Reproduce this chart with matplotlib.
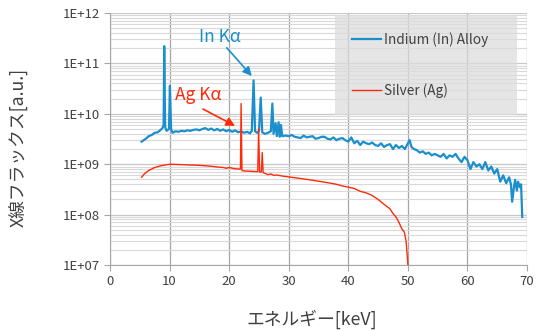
import matplotlib
matplotlib.use("Agg")
import matplotlib.pyplot as plt
import numpy as np
from matplotlib.ticker import FixedLocator, FuncFormatter, LogLocator, NullFormatter

plt.rcParams["font.family"] = ["Noto Sans CJK JP", "DejaVu Sans"]

# Indium (In) alloy spectrum: energy [keV], flux [a.u.]
in_energy = [5.3, 6.0, 6.5, 7.0, 7.5, 8.0, 8.5, 8.8, 9.0, 9.1, 9.25, 9.5, 9.9, 10.05, 10.25,
             10.5, 11, 11.5, 12, 12.5, 13, 13.5, 14, 14.5, 15, 15.5, 16, 16.5, 17, 17.5,
             18, 18.5, 19, 19.5, 20, 20.5, 21, 21.5, 22, 22.5, 23, 23.5, 23.8, 24.1, 24.35,
             24.7, 25.0, 25.3, 25.55, 26, 26.5, 27.0, 27.25, 27.45, 27.8, 28.0, 28.3, 28.5,
             28.7, 28.9, 29.5, 30, 30.5, 31, 31.5, 32, 32.5, 33, 33.5, 34, 34.5, 35, 35.5,
             36, 36.5, 37, 37.5, 38, 38.5, 39, 39.5, 40, 40.5, 41, 41.5, 42, 42.5, 43, 43.5,
             44, 44.5, 45, 45.5, 46, 46.5, 47, 47.5, 48, 48.5, 49, 49.5, 50, 50.3, 50.6, 51,
             51.5, 52, 52.5, 53, 53.5, 54, 54.5, 55, 55.5, 56, 56.5, 57, 57.5, 58, 58.5, 59,
             59.5, 60, 60.5, 61, 61.5, 62, 62.5, 63, 63.5, 64, 64.5, 65, 65.5, 66, 66.5, 67,
             67.3, 67.5, 67.8, 68.0, 68.3, 68.5, 68.8, 69.0, 69.2]
in_flux = [2.8e9, 3.2e9, 3.6e9, 3.8e9, 4.2e9, 4.3e9, 4.8e9, 5.2e9, 6.0e9, 2.2e11, 5.5e9, 4.6e9,
           5.0e9, 3.6e10, 5.0e9, 4.2e9, 4.5e9, 4.4e9, 4.6e9, 4.5e9, 4.7e9, 4.6e9, 4.8e9, 4.9e9,
           4.7e9, 5.0e9, 5.2e9, 4.8e9, 5.1e9, 4.7e9, 5.0e9, 4.6e9, 4.9e9, 4.5e9, 4.8e9, 4.4e9,
           4.7e9, 4.3e9, 4.5e9, 4.2e9, 4.4e9, 4.1e9, 4.6e9, 4.6e10, 4.5e9, 4.2e9, 4.5e9, 2.1e10,
           4.3e9, 4.0e9, 4.2e9, 4.5e9, 1.6e10, 4.0e9, 6.5e9, 3.6e9, 6.8e9, 3.5e9, 6.0e9, 3.6e9,
           3.7e9, 3.6e9, 3.8e9, 3.5e9, 3.4e9, 3.3e9, 3.7e9, 3.4e9, 3.5e9, 3.6e9, 3.2e9, 3.3e9,
           3.5e9, 3.5e9, 3.2e9, 3.1e9, 3.4e9, 3.0e9, 3.2e9, 3.3e9, 3.0e9, 2.8e9, 3.4e9, 2.6e9,
           2.9e9, 2.4e9, 2.8e9, 2.6e9, 2.5e9, 2.7e9, 2.4e9, 2.3e9, 2.6e9, 2.2e9, 2.4e9, 2.5e9,
           2.0e9, 2.4e9, 2.1e9, 2.3e9, 2.0e9, 2.6e9, 3.0e9, 2.2e9, 2.0e9, 1.9e9, 1.7e9, 1.8e9,
           1.6e9, 1.7e9, 1.5e9, 1.6e9, 1.5e9, 1.4e9, 1.6e9, 1.3e9, 1.5e9, 1.4e9, 1.6e9, 1.3e9,
           1.1e9, 1.4e9, 1.2e9, 8.0e8, 1.1e9, 9.0e8, 1.0e9, 8.0e8, 1.1e9, 7.5e8, 9.0e8, 6.5e8,
           8.0e8, 4.5e8, 6.0e8, 4.2e8, 5.5e8, 4.0e8, 1.8e8, 3.5e8, 4.9e8, 3.0e8, 4.5e8, 3.5e8,
           4.0e8, 9.0e7]

# Silver (Ag) spectrum
ag_energy = [5.3, 5.8, 6.5, 7.5, 8.5, 10, 11, 12, 13, 14, 15, 16, 17, 18, 19, 19.5, 20, 21,
             21.9, 22.0, 22.15, 22.3, 23, 24, 24.8, 24.95, 25.1, 25.4, 25.55, 25.7, 26, 26.5,
             27, 27.5, 28, 29, 30, 31, 32, 33, 34, 35, 36, 37, 38, 39, 40, 41, 42, 43, 44, 45,
             46, 47, 47.5, 48, 48.5, 49, 49.4, 49.7, 49.9, 50.0]
ag_flux = [5.5e8, 6.5e8, 7.5e8, 8.6e8, 9.3e8, 1.0e9, 9.9e8, 9.8e8, 9.7e8, 9.6e8, 9.5e8, 9.3e8,
           9.1e8, 8.8e8, 8.6e8, 8.3e8, 8.6e8, 8.1e8, 8.0e8, 1.6e10, 7.5e8, 7.4e8, 7.3e8,
           7.2e8, 7.1e8, 5.2e9, 7.0e8, 7.0e8, 1.7e9, 6.8e8, 6.6e8, 6.2e8, 6.4e8, 6.0e8,
           6.1e8, 5.8e8, 5.6e8, 5.4e8, 5.2e8, 5.0e8, 4.8e8, 4.6e8, 4.4e8, 4.2e8, 4.0e8,
           3.7e8, 3.5e8, 3.3e8, 2.9e8, 2.7e8, 2.4e8, 2.0e8, 1.6e8, 1.3e8, 1.05e8, 9.0e7,
           7.0e7, 5.2e7, 4.5e7, 3.0e7, 1.5e7, 1.0e7]

blue = "#1a8fcc"
red = "#ff2a0a"

fig = plt.figure(figsize=(5.38, 3.31), dpi=100)
ax = fig.add_axes([0.2045, 0.1994, 0.7751, 0.7613])

ax.plot(in_energy, in_flux, color=blue, lw=1.6, label="Indium (In) Alloy", zorder=3)
ax.plot(ag_energy, ag_flux, color=red, lw=1.0, label="Silver (Ag)", zorder=3)

ax.set_yscale("log")
ax.set_xlim(0, 70)
ax.set_ylim(1e7, 1e12)
ax.xaxis.set_major_locator(FixedLocator(np.arange(0, 71, 10)))
ax.yaxis.set_major_locator(FixedLocator([1e7, 1e8, 1e9, 1e10, 1e11, 1e12]))
ax.yaxis.set_major_formatter(FuncFormatter(lambda v, p: "1E+%02d" % int(round(np.log10(v)))))
ax.yaxis.set_minor_locator(LogLocator(base=10, subs=np.arange(2, 10)))
ax.yaxis.set_minor_formatter(NullFormatter())

ax.grid(True, which="major", axis="x", color="#a6a6a6", lw=0.9)
ax.grid(True, which="major", axis="y", color="#c8c8c8", lw=0.9)
ax.grid(True, which="minor", axis="y", color="#d9d9d9", lw=0.8)
ax.set_axisbelow(True)

for s in ["top", "right"]:
    ax.spines[s].set_visible(False)
for s in ["left", "bottom"]:
    ax.spines[s].set_color("#a6a6a6")
ax.tick_params(which="major", length=4, color="#a6a6a6", labelsize=9.5, labelcolor="#404040")
ax.tick_params(which="minor", length=0)

ax.set_xlabel("エネルギー[keV]", fontsize=12.8, color="#404040", va="center")
ax.set_ylabel("X線フラックス[a.u.]", fontsize=12.8, color="#404040")
ax.xaxis.set_label_coords(0.484, -0.215)
ax.yaxis.set_label_coords(-0.194, 0.466)

# peak labels with arrows
ax.text(18.5, 10**11.52, "In Kα", color=blue, fontsize=12.5, ha="center", va="center")
ax.annotate("", xy=(23.8, 10**10.75), xytext=(19.6, 10**11.31),
            arrowprops=dict(arrowstyle="-|>", color=blue, lw=1.2, mutation_scale=13,
                            shrinkA=0, shrinkB=0))
ax.text(14.8, 10**10.37, "Ag Kα", color=red, fontsize=12.5, ha="center", va="center")
ax.annotate("", xy=(21.0, 10**9.76), xytext=(15.6, 10**10.095),
            arrowprops=dict(arrowstyle="-|>", color=red, lw=1.2, mutation_scale=13,
                            shrinkA=0, shrinkB=0))

leg = ax.legend(loc="upper left", bbox_to_anchor=(0.54, 0.607, 0.436, 0.385), mode="expand",
                fontsize=9.8, frameon=True, fancybox=False, facecolor="#dcdcdc",
                framealpha=0.72, edgecolor="none", borderpad=1.25, labelspacing=2.65,
                handlelength=2.1, handletextpad=0.2, borderaxespad=0)
leg.set_zorder(2)
for t in leg.get_texts():
    t.set_color("#404040")

fig.savefig("out.png", dpi=100)
